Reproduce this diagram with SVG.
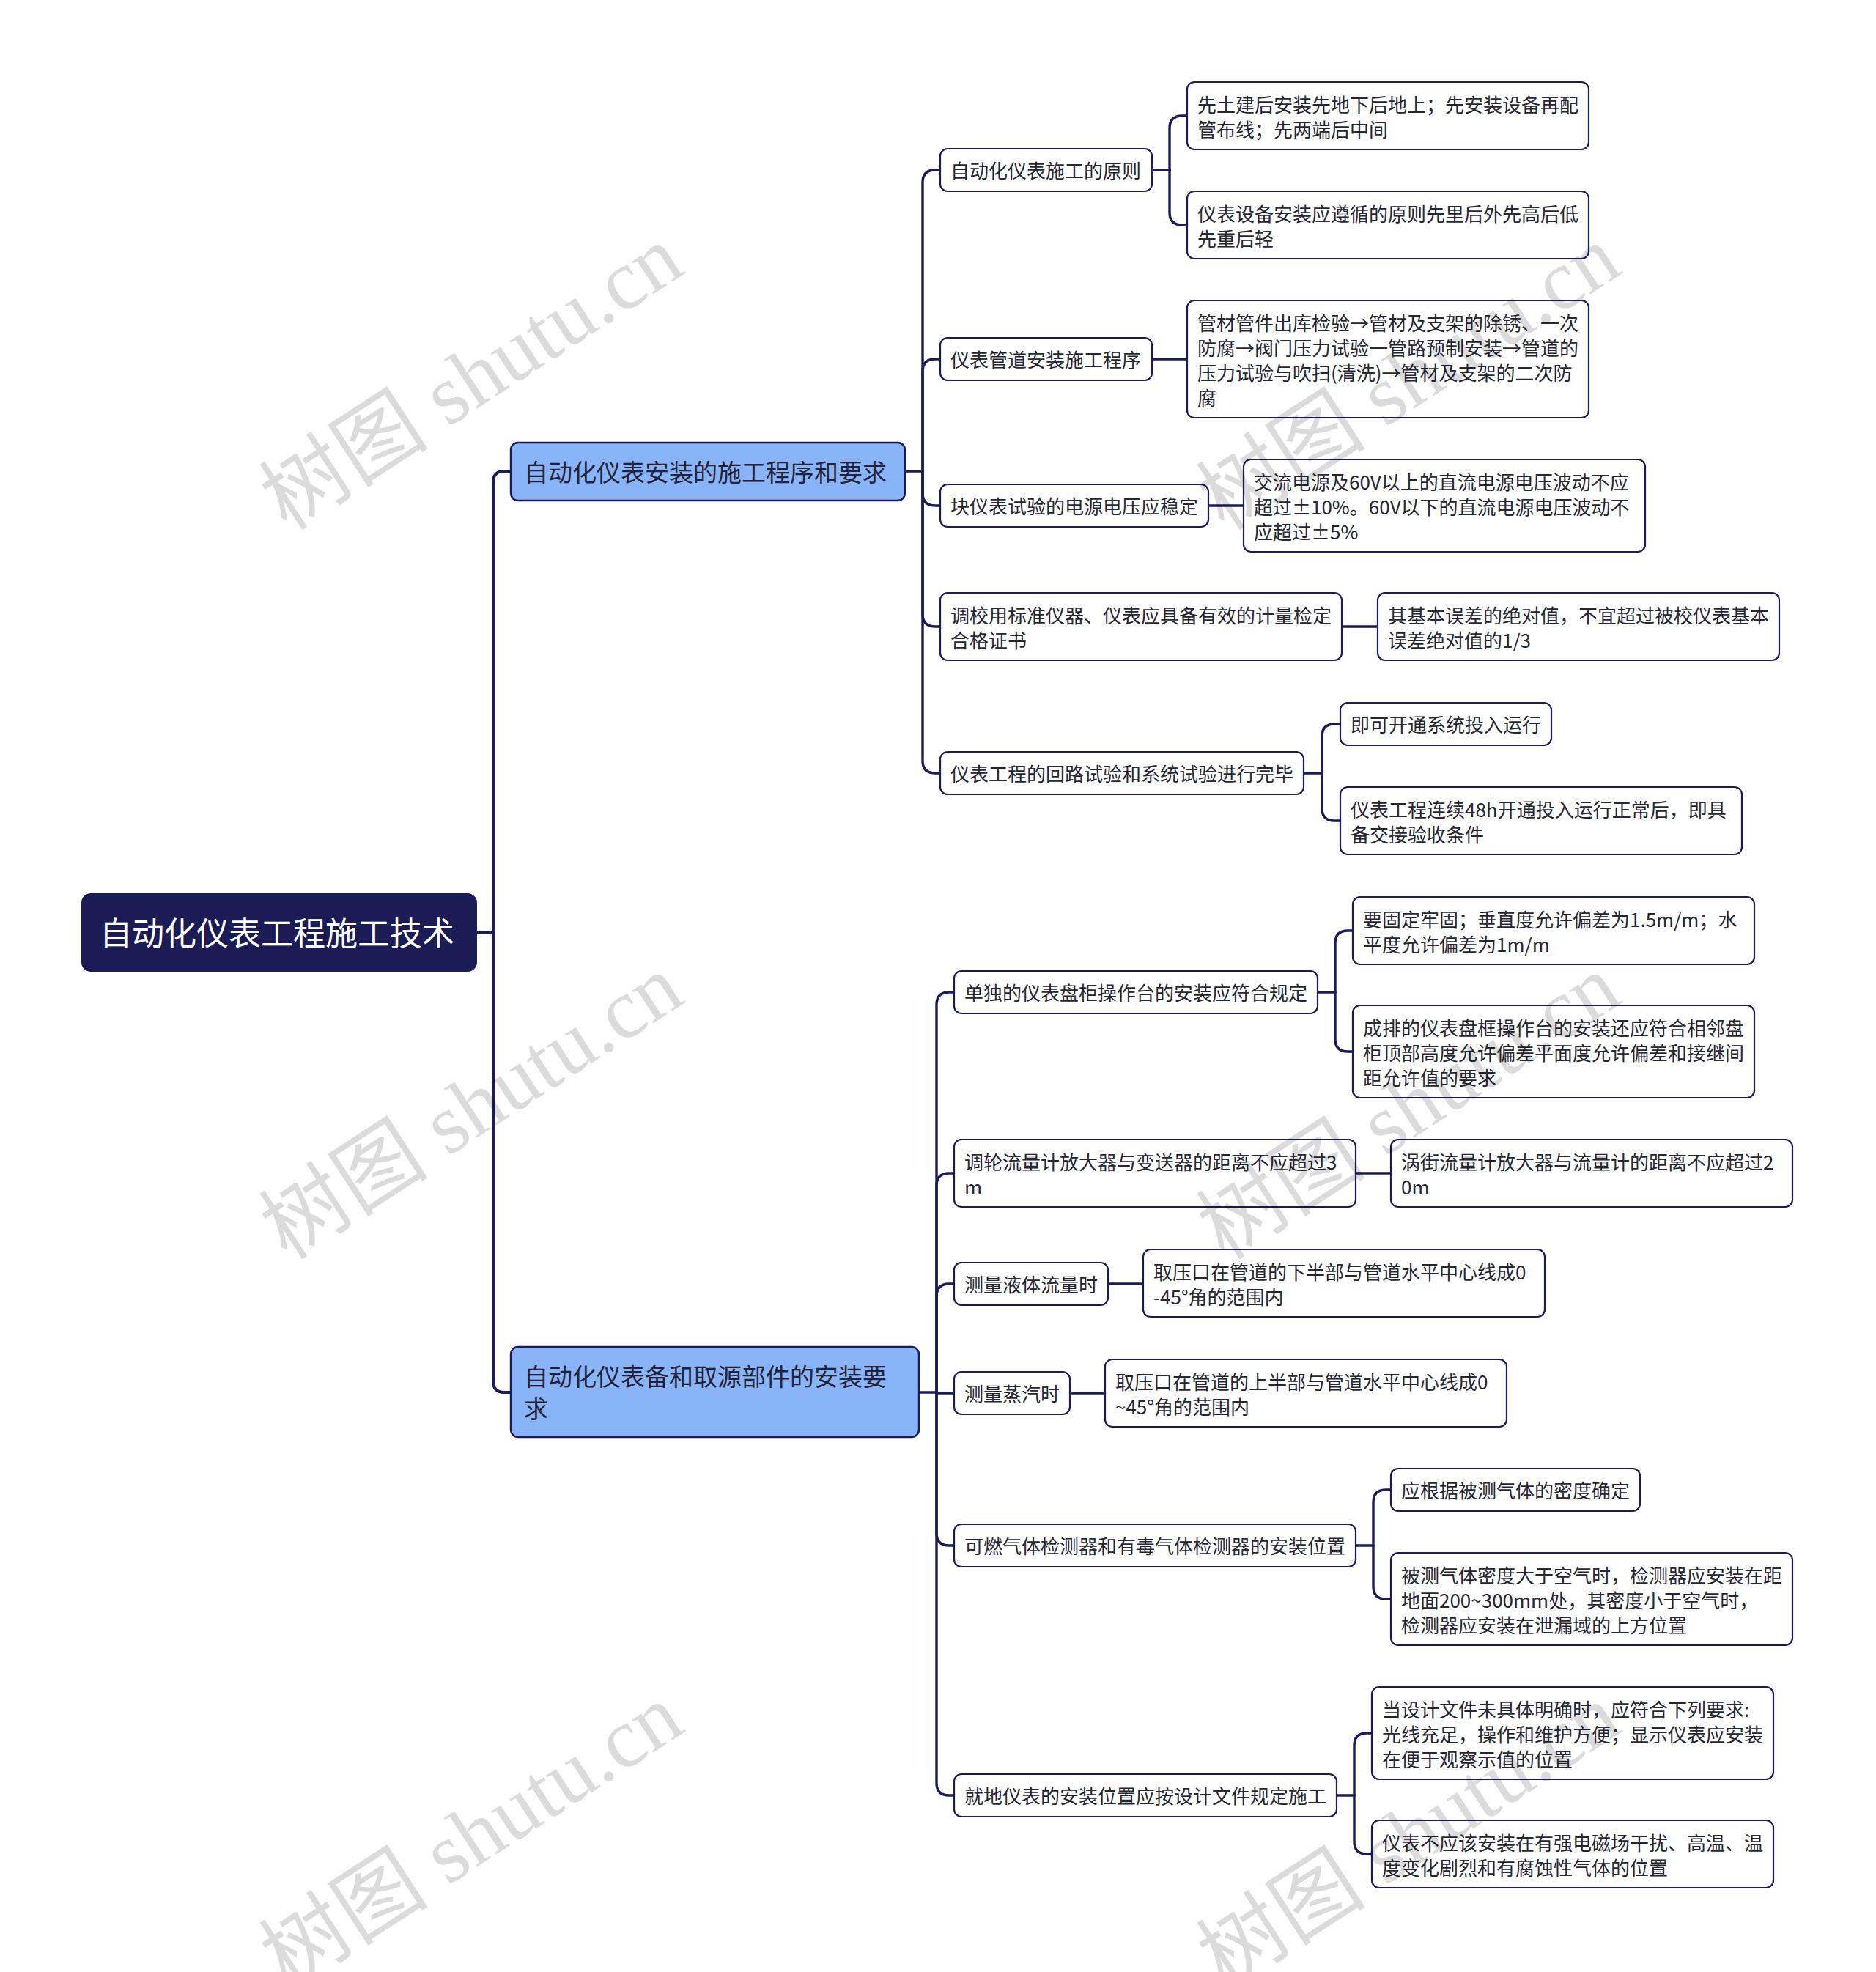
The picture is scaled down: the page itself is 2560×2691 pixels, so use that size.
<svg xmlns="http://www.w3.org/2000/svg" width="2560" height="2691" viewBox="0 0 2560 2691">
<style>
.n rect{fill:#ffffff;stroke:#1b1b55;stroke-width:2.2}
.n text{font-family:"Noto Sans CJK SC","Noto Sans",sans-serif;font-size:26px;fill:#262633}
.b rect{fill:#8ab4f8;stroke:#1b1b55;stroke-width:2.4}
.b text{font-family:"Noto Sans CJK SC","Noto Sans",sans-serif;font-size:33px;fill:#22223a}
.r rect{fill:#1b1b55;stroke:#1b1b55;stroke-width:2}
.r text{font-family:"Noto Sans CJK SC","Noto Sans",sans-serif;font-size:44px;fill:#ffffff}
.c path{fill:none;stroke:#1b1b55;stroke-width:3.4;stroke-linecap:round}
.c path.m{stroke-width:4}
.w text{font-family:"Liberation Serif","Noto Sans CJK SC",serif;font-size:116px;fill:#000000;fill-opacity:0.14}
</style>
<rect width="2560" height="2691" fill="#ffffff"/>
<g id="connectors" class="c">
<path class="m" d="M650,1272 H673"/>
<path class="m" d="M673,1272 V658 Q673,643 688,643 H697"/>
<path class="m" d="M673,1272 V1885 Q673,1900 688,1900 H697"/>
<path d="M1235,643 H1259"/>
<path d="M1259,643 V249 Q1259,232 1276,232 H1283"/>
<path d="M1259,643 V507 Q1259,490 1276,490 H1283"/>
<path d="M1259,643 V673 Q1259,690 1276,690 H1283"/>
<path d="M1259,643 V838 Q1259,855 1276,855 H1283"/>
<path d="M1259,643 V1038 Q1259,1055 1276,1055 H1283"/>
<path d="M1254,1900 H1278"/>
<path d="M1278,1900 V1371 Q1278,1354 1295,1354 H1302"/>
<path d="M1278,1900 V1618 Q1278,1601 1295,1601 H1302"/>
<path d="M1278,1900 V1769 Q1278,1752 1295,1752 H1302"/>
<path d="M1278,1900 V1901 H1302"/>
<path d="M1278,1900 V2092 Q1278,2109 1295,2109 H1302"/>
<path d="M1278,1900 V2433 Q1278,2450 1295,2450 H1302"/>
<path d="M1572,232 H1596"/>
<path d="M1596,232 V175 Q1596,158 1613,158 H1620"/>
<path d="M1596,232 V290 Q1596,307 1613,307 H1620"/>
<path d="M1572,490 H1620"/>
<path d="M1649,690 H1697"/>
<path d="M1831,855 H1880"/>
<path d="M1779,1055 H1804"/>
<path d="M1804,1055 V1005 Q1804,988 1821,988 H1829"/>
<path d="M1804,1055 V1103 Q1804,1120 1821,1120 H1829"/>
<path d="M1798,1354 H1822"/>
<path d="M1822,1354 V1287 Q1822,1270 1839,1270 H1846"/>
<path d="M1822,1354 V1418 Q1822,1435 1839,1435 H1846"/>
<path d="M1850,1601 H1898"/>
<path d="M1512,1752 H1560"/>
<path d="M1460,1901 H1508"/>
<path d="M1850,2109 H1874"/>
<path d="M1874,2109 V2050 Q1874,2033 1891,2033 H1898"/>
<path d="M1874,2109 V2165 Q1874,2182 1891,2182 H1898"/>
<path d="M1824,2450 H1848"/>
<path d="M1848,2450 V2382 Q1848,2365 1865,2365 H1872"/>
<path d="M1848,2450 V2513 Q1848,2530 1865,2530 H1872"/>
</g>
<g id="root" class="r"><rect x="112" y="1220" width="538" height="105" rx="12"/><text x="136" y="1290">自动化仪表工程施工技术</text></g>
<g id="b1" class="b"><rect x="697" y="604" width="538" height="79" rx="10"/><text x="715" y="657">自动化仪表安装的施工程序和要求</text></g>
<g id="b2" class="b"><rect x="697" y="1838" width="557" height="123" rx="10"/><text x="715" y="1891">自动化仪表备和取源部件的安装要</text><text x="715" y="1935">求</text></g>

<g id="b1c1" class="n"><rect x="1283" y="203" width="289" height="58" rx="10"/><text x="1297" y="243">自动化仪表施工的原则</text></g>
<g id="b1c1a" class="n"><rect x="1620" y="112" width="548" height="92" rx="10"/><text x="1634" y="153">先土建后安装先地下后地上；先安装设备再配</text><text x="1634" y="187">管布线；先两端后中间</text></g>
<g id="b1c1b" class="n"><rect x="1620" y="261" width="548" height="92" rx="10"/><text x="1634" y="302">仪表设备安装应遵循的原则先里后外先高后低</text><text x="1634" y="336">先重后轻</text></g>

<g id="b1c2" class="n"><rect x="1283" y="461" width="289" height="58" rx="10"/><text x="1297" y="501">仪表管道安装施工程序</text></g>
<g id="b1c2a" class="n"><rect x="1620" y="410" width="548" height="160" rx="10"/><text x="1634" y="451">管材管件出库检验→管材及支架的除锈、一次</text><text x="1634" y="485">防腐→阀门压力试验一管路预制安装→管道的</text><text x="1634" y="519">压力试验与吹扫(清洗)→管材及支架的二次防</text><text x="1634" y="553">腐</text></g>

<g id="b1c3" class="n"><rect x="1283" y="661" width="366" height="58" rx="10"/><text x="1297" y="701">块仪表试验的电源电压应稳定</text></g>
<g id="b1c3a" class="n"><rect x="1697" y="627" width="548" height="126" rx="10"/><text x="1711" y="668">交流电源及60V以上的直流电源电压波动不应</text><text x="1711" y="702">超过±10%。60V以下的直流电源电压波动不</text><text x="1711" y="736">应超过±5%</text></g>

<g id="b1c4" class="n"><rect x="1283" y="809" width="548" height="92" rx="10"/><text x="1297" y="850">调校用标准仪器、仪表应具备有效的计量检定</text><text x="1297" y="884">合格证书</text></g>
<g id="b1c4a" class="n"><rect x="1880" y="809" width="548" height="92" rx="10"/><text x="1894" y="850">其基本误差的绝对值，不宜超过被校仪表基本</text><text x="1894" y="884">误差绝对值的1/3</text></g>

<g id="b1c5" class="n"><rect x="1283" y="1026" width="496" height="58" rx="10"/><text x="1297" y="1066">仪表工程的回路试验和系统试验进行完毕</text></g>
<g id="b1c5a" class="n"><rect x="1829" y="959" width="288" height="58" rx="10"/><text x="1843" y="999">即可开通系统投入运行</text></g>
<g id="b1c5b" class="n"><rect x="1829" y="1074" width="548" height="92" rx="10"/><text x="1843" y="1115">仪表工程连续48h开通投入运行正常后，即具</text><text x="1843" y="1149">备交接验收条件</text></g>

<g id="b2c1" class="n"><rect x="1302" y="1325" width="496" height="58" rx="10"/><text x="1316" y="1365">单独的仪表盘柜操作台的安装应符合规定</text></g>
<g id="b2c1a" class="n"><rect x="1846" y="1224" width="548" height="92" rx="10"/><text x="1860" y="1265">要固定牢固；垂直度允许偏差为1.5m/m；水</text><text x="1860" y="1299">平度允许偏差为1m/m</text></g>
<g id="b2c1b" class="n"><rect x="1846" y="1372" width="548" height="126" rx="10"/><text x="1860" y="1413">成排的仪表盘框操作台的安装还应符合相邻盘</text><text x="1860" y="1447">柜顶部高度允许偏差平面度允许偏差和接继间</text><text x="1860" y="1481">距允许值的要求</text></g>

<g id="b2c2" class="n"><rect x="1302" y="1555" width="548" height="92" rx="10"/><text x="1316" y="1596">调轮流量计放大器与变送器的距离不应超过3</text><text x="1316" y="1630">m</text></g>
<g id="b2c2a" class="n"><rect x="1898" y="1555" width="548" height="92" rx="10"/><text x="1912" y="1596">涡街流量计放大器与流量计的距离不应超过2</text><text x="1912" y="1630">0m</text></g>

<g id="b2c3" class="n"><rect x="1302" y="1723" width="210" height="58" rx="10"/><text x="1316" y="1763">测量液体流量时</text></g>
<g id="b2c3a" class="n"><rect x="1560" y="1705" width="548" height="92" rx="10"/><text x="1574" y="1746">取压口在管道的下半部与管道水平中心线成0</text><text x="1574" y="1780">-45°角的范围内</text></g>

<g id="b2c4" class="n"><rect x="1302" y="1872" width="158" height="58" rx="10"/><text x="1316" y="1912">测量蒸汽时</text></g>
<g id="b2c4a" class="n"><rect x="1508" y="1855" width="548" height="92" rx="10"/><text x="1522" y="1896">取压口在管道的上半部与管道水平中心线成0</text><text x="1522" y="1930">~45°角的范围内</text></g>

<g id="b2c5" class="n"><rect x="1302" y="2080" width="548" height="58" rx="10"/><text x="1316" y="2120">可燃气体检测器和有毒气体检测器的安装位置</text></g>
<g id="b2c5a" class="n"><rect x="1898" y="2004" width="340" height="58" rx="10"/><text x="1912" y="2044">应根据被测气体的密度确定</text></g>
<g id="b2c5b" class="n"><rect x="1898" y="2119" width="548" height="126" rx="10"/><text x="1912" y="2160">被测气体密度大于空气时，检测器应安装在距</text><text x="1912" y="2194">地面200~300mm处，其密度小于空气时，</text><text x="1912" y="2228">检测器应安装在泄漏域的上方位置</text></g>

<g id="b2c6" class="n"><rect x="1302" y="2421" width="522" height="58" rx="10"/><text x="1316" y="2461">就地仪表的安装位置应按设计文件规定施工</text></g>
<g id="b2c6a" class="n"><rect x="1872" y="2302" width="548" height="126" rx="10"/><text x="1886" y="2343">当设计文件未具体明确时，应符合下列要求:</text><text x="1886" y="2377">光线充足，操作和维护方便；显示仪表应安装</text><text x="1886" y="2411">在便于观察示值的位置</text></g>
<g id="b2c6b" class="n"><rect x="1872" y="2484" width="548" height="92" rx="10"/><text x="1886" y="2525">仪表不应该安装在有强电磁场干扰、高温、温</text><text x="1886" y="2559">度变化剧烈和有腐蚀性气体的位置</text></g>

<g id="watermarks" class="w">
<text x="643" y="555" text-anchor="middle" transform="rotate(-33 643 515)">树图 shutu.cn</text>
<text x="1922" y="555" text-anchor="middle" transform="rotate(-33 1922 515)">树图 shutu.cn</text>
<text x="643" y="1550" text-anchor="middle" transform="rotate(-33 643 1510)">树图 shutu.cn</text>
<text x="1922" y="1550" text-anchor="middle" transform="rotate(-33 1922 1510)">树图 shutu.cn</text>
<text x="643" y="2545" text-anchor="middle" transform="rotate(-33 643 2505)">树图 shutu.cn</text>
<text x="1922" y="2545" text-anchor="middle" transform="rotate(-33 1922 2505)">树图 shutu.cn</text>
</g>
</svg>
